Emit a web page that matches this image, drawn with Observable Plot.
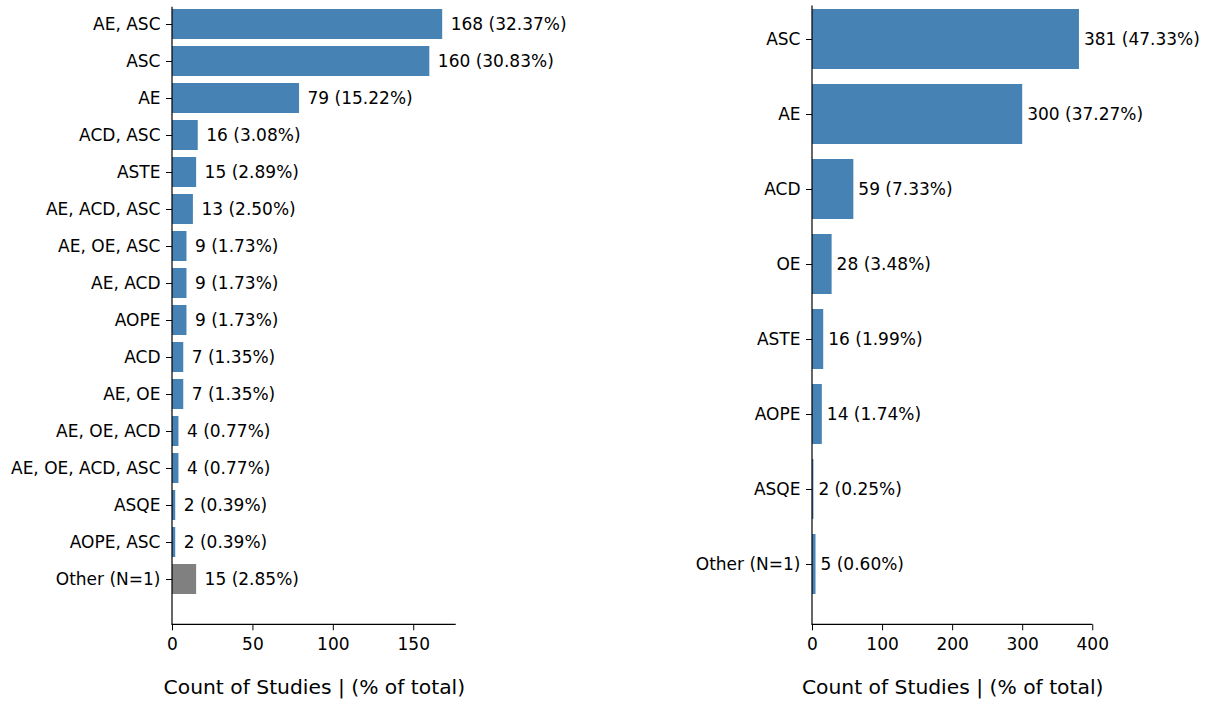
<!DOCTYPE html>
<html>
<head>
<meta charset="utf-8">
<script src="https://cdn.jsdelivr.net/npm/d3@7"></script>
<script src="https://cdn.jsdelivr.net/npm/@observablehq/plot@0.6"></script>
<style>
  html, body { margin: 0; padding: 0; background: #fff; }
  #wrap { display: flex; width: 1209px; height: 702px; }
  svg { display: block; }
</style>
</head>
<body>
<div id="wrap"></div>
<script>
// ---- Data ----
const leftCats = ["AE, ASC","ASC","AE","ACD, ASC","ASTE","AE, ACD, ASC","AE, OE, ASC","AE, ACD","AOPE","ACD","AE, OE","AE, OE, ACD","AE, OE, ACD, ASC","ASQE","AOPE, ASC","Other (N=1)"];
const leftCounts = [168,160,79,16,15,13,9,9,9,7,7,4,4,2,2,15];
const leftPcts = ["32.37","30.83","15.22","3.08","2.89","2.50","1.73","1.73","1.73","1.35","1.35","0.77","0.77","0.39","0.39","2.85"];
const leftXTicks = [0,50,100,150];

const rightCats = ["ASC","AE","ACD","OE","ASTE","AOPE","ASQE","Other (N=1)"];
const rightCounts = [381,300,59,28,16,14,2,5];
const rightPcts = ["47.33","37.27","7.33","3.48","1.99","1.74","0.25","0.60"];
const rightXTicks = [0,100,200,300,400];

const xLabel = "Count of Studies | (% of total)";
const BLUE = "#4682b4", GREY = "#808080";
const FONT = "DejaVu Sans, sans-serif";
const FS = 17;

function spines(scales, dimensions) {
  const g = d3.create("svg:g");
  const [x0, x1] = scales.x.range();
  const yb = dimensions.height - dimensions.marginBottom;
  const yt = dimensions.marginTop;
  g.append("line").attr("x1", x0).attr("x2", x0).attr("y1", yt).attr("y2", yb)
    .attr("stroke", "#000").attr("stroke-width", 1.2);
  g.append("line").attr("x1", x0 - 0.6).attr("x2", x1).attr("y1", yb).attr("y2", yb)
    .attr("stroke", "#000").attr("stroke-width", 1.2);
  return g.node();
}

function makeChart({cats, counts, pcts, xTicks, xMax, width, mLeft, mRight, mTop, yRange, colorFn, dx}) {
  const data = cats.map((c, i) => ({cat: c, n: counts[i], label: `${counts[i]} (${pcts[i]}%)`}));
  return Plot.plot({
    width, height: 702,
    marginLeft: mLeft, marginRight: mRight, marginTop: mTop, marginBottom: 702 - 624.3,
    style: {fontFamily: FONT, fontSize: FS + "px", background: "transparent", color: "#000"},
    x: {domain: [0, xMax], ticks: xTicks, tickFormat: d => String(d)},
    y: {domain: cats, range: yRange, padding: 0.2},
    marks: [
      Plot.barX(data, {x: "n", y: "cat", fill: d => colorFn(d.cat)}),
      Plot.text(data, {x: "n", y: "cat", text: "label", textAnchor: "start", dx, fill: "#000", fontSize: FS}),
      Plot.axisX({ticks: xTicks, tickSize: 6, tickPadding: 7, label: null, fontSize: FS, tickFormat: d => String(d)}),
      Plot.axisY({tickSize: 6, tickPadding: 6, label: null, fontSize: FS}),
      Plot.text([xLabel], {frameAnchor: "bottom", dy: 69, fontSize: 20.3, fill: "#000"}),
      (index, scales, values, dimensions) => spines(scales, dimensions)
    ]
  });
}

const left = makeChart({
  cats: leftCats, counts: leftCounts, pcts: leftPcts, xTicks: leftXTicks,
  xMax: 176.4, width: 605, mLeft: 172, mRight: 605 - 455.7, mTop: 6.7,
  yRange: [0.72, 602.2],
  colorFn: c => c.startsWith("Other") ? GREY : BLUE, dx: 8
});
const right = makeChart({
  cats: rightCats, counts: rightCounts, pcts: rightPcts, xTicks: rightXTicks,
  xMax: 400.05, width: 604, mLeft: 207, mRight: 1209 - 1092.3, mTop: 5.5,
  yRange: [-6.4, 609.8],
  colorFn: c => BLUE, dx: 4.5
});
document.getElementById("wrap").append(left, right);
</script>
</body>
</html>
